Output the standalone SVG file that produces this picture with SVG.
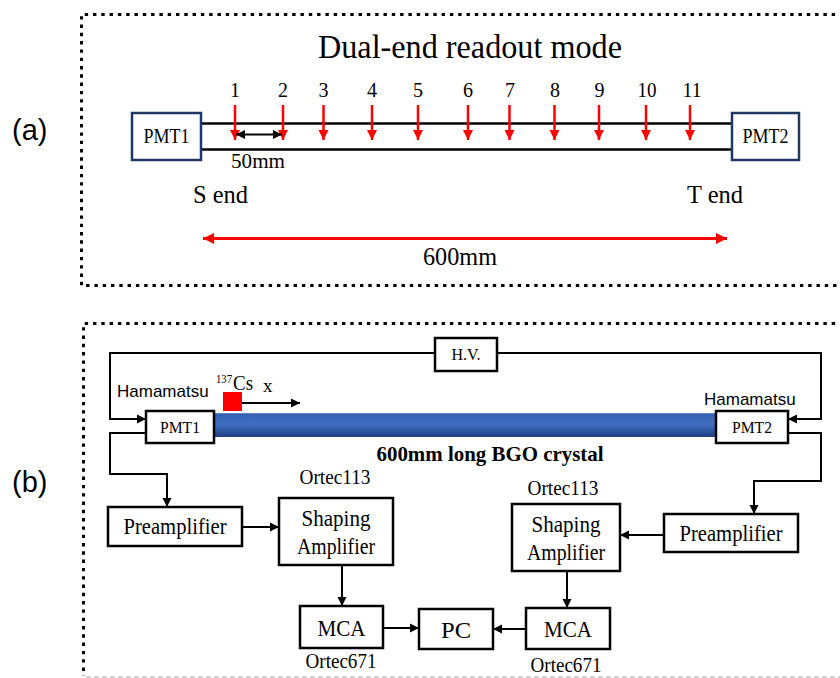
<svg xmlns="http://www.w3.org/2000/svg" width="840" height="678" viewBox="0 0 840 678">
  <defs>
    <style>
      .serif { font-family: "Liberation Serif", "Times New Roman", serif; fill: #000; }
      .sans { font-family: "Liberation Sans", Arial, sans-serif; fill: #000; }
      .mid { text-anchor: middle; }
      .frame { fill: none; stroke: #000; stroke-width: 3; stroke-dasharray: 3.4 4.9; }
      .pmtA { fill: #fff; stroke: #1f3864; stroke-width: 2.5; }
      .box { fill: #fff; stroke: #000; stroke-width: 2.5; }
      .wire { fill: none; stroke: #000; stroke-width: 2; }
      .wireA { fill: none; stroke: #000; stroke-width: 2; marker-end: url(#ah); }
      .red { fill: none; stroke: #ff0000; stroke-width: 2.5; marker-end: url(#ahr); }
    </style>
    <marker id="ah" viewBox="0 0 10 10" refX="10" refY="5" markerWidth="9" markerHeight="10" markerUnits="userSpaceOnUse" orient="auto-start-reverse">
      <path d="M0,0 L10,5 L0,10 z" fill="#000"/>
    </marker>
    <marker id="ahr" viewBox="0 0 10 10" refX="10" refY="5" markerWidth="10" markerHeight="11" markerUnits="userSpaceOnUse" orient="auto-start-reverse">
      <path d="M0,0 L10,5 L0,10 z" fill="#ff0000"/>
    </marker>
    <marker id="ahr2" viewBox="0 0 10 10" refX="10" refY="5" markerWidth="11" markerHeight="13" markerUnits="userSpaceOnUse" orient="auto-start-reverse">
      <path d="M0,0 L10,5 L0,10 z" fill="#ff0000"/>
    </marker>
    <linearGradient id="bgo" x1="0" y1="0" x2="0" y2="1">
      <stop offset="0" stop-color="#3560ad"/>
      <stop offset="0.45" stop-color="#3f6fc4"/>
      <stop offset="1" stop-color="#213f82"/>
    </linearGradient>
  </defs>

  <rect width="840" height="678" fill="#fff"/>

  <!-- panel labels -->
  <text class="sans" x="12" y="140" font-size="29">(a)</text>
  <text class="sans" x="12" y="492" font-size="29">(b)</text>

  <!-- ===================== (a) dual-end readout ===================== -->
  <g id="panel-a">
    <path class="frame" d="M860,14.5 L81.5,14.5 L81.5,285.5 L860,285.5"/>
    <text class="serif mid" x="470" y="58" font-size="33" textLength="304" lengthAdjust="spacingAndGlyphs">Dual-end readout mode</text>

    <g id="crystal-a">
      <line x1="201" y1="123.5" x2="732" y2="123.5" stroke="#000" stroke-width="2.5"/>
      <line x1="201" y1="149.5" x2="732" y2="149.5" stroke="#000" stroke-width="2.5"/>
    </g>
    <g id="pmt1-a">
      <rect class="pmtA" x="132" y="113" width="69" height="47"/>
      <text class="serif mid" x="166.5" y="143" font-size="20" textLength="46" lengthAdjust="spacingAndGlyphs">PMT1</text>
    </g>
    <g id="pmt2-a">
      <rect class="pmtA" x="732" y="113" width="67" height="47"/>
      <text class="serif mid" x="765.5" y="143" font-size="20" textLength="46" lengthAdjust="spacingAndGlyphs">PMT2</text>
    </g>

    <!-- irradiation positions -->
    <g id="positions" class="serif mid" font-size="20">
      <text x="235" y="97">1</text>
      <text x="283" y="97">2</text>
      <text x="323.5" y="97">3</text>
      <text x="372" y="97">4</text>
      <text x="418" y="97">5</text>
      <text x="468" y="97">6</text>
      <text x="510" y="97">7</text>
      <text x="555" y="97">8</text>
      <text x="599.5" y="97">9</text>
      <text x="647" y="97" textLength="19" lengthAdjust="spacingAndGlyphs">10</text>
      <text x="692" y="97" textLength="19" lengthAdjust="spacingAndGlyphs">11</text>
    </g>
    <g id="position-arrows">
      <line class="red" x1="235" y1="105" x2="235" y2="140"/>
      <line class="red" x1="283" y1="105" x2="283" y2="140"/>
      <line class="red" x1="323.5" y1="105" x2="323.5" y2="140"/>
      <line class="red" x1="372" y1="105" x2="372" y2="140"/>
      <line class="red" x1="418" y1="105" x2="418" y2="140"/>
      <line class="red" x1="468" y1="105" x2="468" y2="140"/>
      <line class="red" x1="509.5" y1="105" x2="509.5" y2="140"/>
      <line class="red" x1="554.5" y1="105" x2="554.5" y2="140"/>
      <line class="red" x1="599" y1="105" x2="599" y2="140"/>
      <line class="red" x1="646" y1="105" x2="646" y2="140"/>
      <line class="red" x1="690" y1="105" x2="690" y2="140"/>
    </g>

    <!-- pitch and length dimensions -->
    <line x1="236" y1="134.5" x2="282" y2="134.5" stroke="#000" stroke-width="2" marker-start="url(#ah)" marker-end="url(#ah)"/>
    <text class="serif mid" x="258" y="168" font-size="22" textLength="54" lengthAdjust="spacingAndGlyphs">50mm</text>
    <text class="serif" x="193" y="203" font-size="25" textLength="55" lengthAdjust="spacingAndGlyphs">S end</text>
    <text class="serif" x="687" y="203" font-size="25" textLength="56" lengthAdjust="spacingAndGlyphs">T end</text>
    <line x1="203" y1="238.5" x2="727" y2="238.5" stroke="#ff0000" stroke-width="3" marker-start="url(#ahr2)" marker-end="url(#ahr2)"/>
    <text class="serif mid" x="460" y="265" font-size="25" textLength="74" lengthAdjust="spacingAndGlyphs">600mm</text>
  </g>

  <!-- ===================== (b) test setup ===================== -->
  <g id="panel-b">
    <path class="frame" d="M860,323.5 L83.5,323.5 L83.5,676"/>
    <line x1="86" y1="677" x2="840" y2="677" stroke="#a6a6a6" stroke-width="1.2" stroke-dasharray="5 3"/>

    <!-- connectors -->
    <g id="connectors">
      <polyline class="wire" points="435,353 110,353 110,419"/>
      <polyline class="wire" points="497,353 821,353 821,419"/>
      <line class="wireA" x1="109" y1="419" x2="146" y2="419"/>
      <line class="wireA" x1="822" y1="419" x2="788" y2="419"/>
      <polyline class="wireA" points="146,433 110,433 110,474 167,474 167,507"/>
      <polyline class="wireA" points="788,433 821,433 821,481 754,481 754,514"/>
      <line class="wireA" x1="242" y1="527" x2="279" y2="527"/>
      <line class="wireA" x1="664" y1="535" x2="620" y2="535"/>
      <line class="wireA" x1="342" y1="565" x2="342" y2="606"/>
      <line class="wireA" x1="567" y1="571" x2="567" y2="608"/>
      <line class="wireA" x1="383" y1="628" x2="419" y2="628"/>
      <line class="wireA" x1="526" y1="629" x2="493" y2="629"/>
    </g>

    <g id="hv">
      <rect class="box" x="435" y="338" width="62" height="33"/>
      <text class="serif mid" x="466" y="360" font-size="16" textLength="29" lengthAdjust="spacingAndGlyphs">H.V.</text>
    </g>

    <g id="bgo-crystal">
      <rect x="214" y="413" width="503" height="24" fill="url(#bgo)"/>
      <line x1="214" y1="413.5" x2="717" y2="413.5" stroke="#5b82cc" stroke-width="1"/>
      <text class="serif mid" x="490" y="461" font-size="21" font-weight="bold" textLength="227" lengthAdjust="spacingAndGlyphs">600mm long BGO crystal</text>
    </g>

    <g id="pmt1-b">
      <rect class="box" x="146" y="411" width="68" height="32"/>
      <text class="serif mid" x="180" y="433" font-size="16.5" textLength="40" lengthAdjust="spacingAndGlyphs">PMT1</text>
      <text class="sans" x="117" y="397" font-size="17">Hamamatsu</text>
    </g>
    <g id="pmt2-b">
      <rect class="box" x="716" y="411" width="72" height="32"/>
      <text class="serif mid" x="752" y="433" font-size="16.5" textLength="40" lengthAdjust="spacingAndGlyphs">PMT2</text>
      <text class="sans" x="704" y="405" font-size="17">Hamamatsu</text>
    </g>

    <g id="source">
      <rect x="223" y="392" width="19" height="19" fill="#ff0000"/>
      <text class="serif" x="216" y="383" font-size="12" textLength="16" lengthAdjust="spacingAndGlyphs">137</text>
      <text class="serif" x="233" y="390" font-size="20" textLength="20" lengthAdjust="spacingAndGlyphs">Cs</text>
      <line x1="242" y1="403" x2="300" y2="403" stroke="#000" stroke-width="2" marker-end="url(#ah)"/>
      <text class="serif" x="263" y="392" font-size="19">x</text>
    </g>

    <g id="preamp-left">
      <rect class="box" x="108" y="507" width="134" height="39"/>
      <text class="serif mid" x="175" y="534" font-size="23.5" textLength="103" lengthAdjust="spacingAndGlyphs">Preamplifier</text>
    </g>
    <g id="shaping-left">
      <rect class="box" x="279" y="498" width="114" height="67"/>
      <text class="serif mid" x="336" y="526" font-size="23.5" textLength="69" lengthAdjust="spacingAndGlyphs">Shaping</text>
      <text class="serif mid" x="336" y="554" font-size="23.5" textLength="78" lengthAdjust="spacingAndGlyphs">Amplifier</text>
      <text class="serif mid" x="335" y="484" font-size="21" textLength="71" lengthAdjust="spacingAndGlyphs">Ortec113</text>
    </g>
    <g id="mca-left">
      <rect class="box" x="300" y="606" width="83" height="42"/>
      <text class="serif mid" x="341.5" y="636" font-size="23.5" textLength="48" lengthAdjust="spacingAndGlyphs">MCA</text>
      <text class="serif mid" x="341" y="668" font-size="21" textLength="71" lengthAdjust="spacingAndGlyphs">Ortec671</text>
    </g>
    <g id="pc">
      <rect class="box" x="419" y="609" width="74" height="40"/>
      <text class="serif mid" x="456" y="638" font-size="23.5" textLength="30" lengthAdjust="spacingAndGlyphs">PC</text>
    </g>
    <g id="mca-right">
      <rect class="box" x="526" y="608" width="84" height="41"/>
      <text class="serif mid" x="568" y="637" font-size="23.5" textLength="48" lengthAdjust="spacingAndGlyphs">MCA</text>
      <text class="serif mid" x="566" y="672" font-size="21" textLength="71" lengthAdjust="spacingAndGlyphs">Ortec671</text>
    </g>
    <g id="shaping-right">
      <rect class="box" x="512" y="504" width="108" height="67"/>
      <text class="serif mid" x="566" y="532" font-size="23.5" textLength="69" lengthAdjust="spacingAndGlyphs">Shaping</text>
      <text class="serif mid" x="566" y="560" font-size="23.5" textLength="78" lengthAdjust="spacingAndGlyphs">Amplifier</text>
      <text class="serif mid" x="563" y="495" font-size="21" textLength="71" lengthAdjust="spacingAndGlyphs">Ortec113</text>
    </g>
    <g id="preamp-right">
      <rect class="box" x="664" y="514" width="134" height="38"/>
      <text class="serif mid" x="731" y="541" font-size="23.5" textLength="103" lengthAdjust="spacingAndGlyphs">Preamplifier</text>
    </g>
  </g>
</svg>
